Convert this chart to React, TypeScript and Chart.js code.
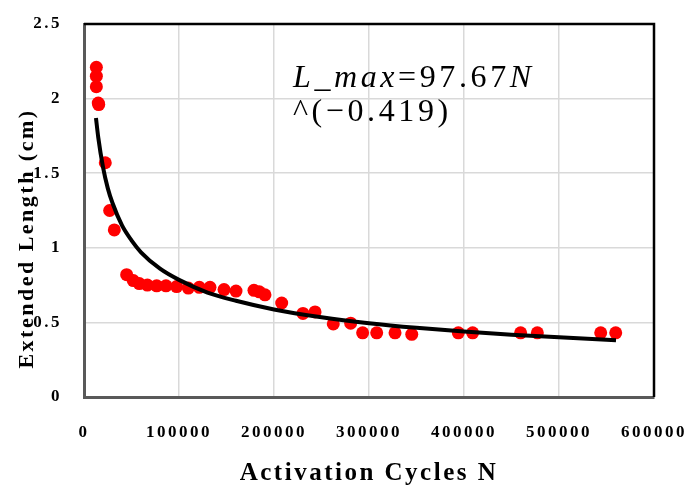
import { useEffect, useRef } from "react";
import { Chart, registerables } from "chart.js";

Chart.register(...registerables);

// Measured extension versus number of activation cycles
const cyclesN = [
  13000, 13000, 13000, 15000, 15500, 22400, 27000, 31900, 44900, 51900,
  58200, 66700, 76500, 86300, 97500, 109800, 121400, 132600, 147400, 160000,
  178900, 184500, 190500, 208100, 230500, 243200, 262400, 280700, 293300, 308100,
  327400, 345000, 394000, 409100, 459600, 477200, 543900, 559700,
];
const extendedLength = [
  2.21, 2.15, 2.08, 1.97, 1.96, 1.57, 1.25, 1.12, 0.82, 0.78,
  0.76, 0.75, 0.745, 0.745, 0.74, 0.73, 0.735, 0.735, 0.72, 0.71,
  0.715, 0.705, 0.685, 0.63, 0.56, 0.57, 0.49, 0.495, 0.43, 0.43,
  0.43, 0.42, 0.43, 0.43, 0.43, 0.43, 0.43, 0.43,
];

// Power-law trend line samples
const fitCycles = [
  12600, 15000, 20000, 25000, 30000, 40000, 50000, 60000, 80000, 100000,
  130000, 160000, 200000, 250000, 300000, 350000, 400000, 450000, 500000, 560000,
];
const fitLength = [
  1.87, 1.74, 1.54, 1.40, 1.30, 1.15, 1.05, 0.97, 0.86, 0.785,
  0.70, 0.645, 0.587, 0.535, 0.495, 0.464, 0.439, 0.418, 0.40, 0.381,
];

const xTickValues = [0, 100000, 200000, 300000, 400000, 500000, 600000];
const yTickValues = [0, 0.5, 1, 1.5, 2, 2.5];

const xTitle = "Activation Cycles N";
const yTitle = "Extended Length (cm)";

const equationTop = [
  { text: "L_max", italic: true },
  { text: "=97.67", italic: false },
  { text: "N", italic: true },
];
const equationBottom = "^(\u22120.419)";
const equationAnchor = { x: 220000, y: 2.08 };

const SERIF = "'Liberation Serif', 'Times New Roman', serif";
const TEXT_SPACING = "2.5px";

const spacingPlugin = {
  id: "textSpacing",
  beforeLayout(chart: any) {
    chart.ctx.letterSpacing = TEXT_SPACING;
  },
  beforeDraw(chart: any) {
    chart.ctx.letterSpacing = TEXT_SPACING;
  },
};

// Black frame on the top and right sides of the plot area
const framePlugin = {
  id: "frame",
  beforeDatasetsDraw(chart: any) {
    const { ctx, chartArea } = chart;
    ctx.save();
    ctx.strokeStyle = "#000";
    ctx.lineWidth = 2.5;
    ctx.beginPath();
    ctx.moveTo(chartArea.left, chartArea.top);
    ctx.lineTo(chartArea.right, chartArea.top);
    ctx.lineTo(chartArea.right, chartArea.bottom);
    ctx.stroke();
    ctx.restore();
  },
};

// Vertical axis caption, set a little below the middle of the axis
const yTitlePlugin = {
  id: "yTitle",
  afterDraw(chart: any) {
    const { ctx, chartArea } = chart;
    ctx.save();
    ctx.translate(27, (chartArea.top + chartArea.bottom) / 2 + 28);
    ctx.rotate(-Math.PI / 2);
    ctx.fillStyle = "#000";
    ctx.textAlign = "center";
    ctx.textBaseline = "middle";
    ctx.letterSpacing = TEXT_SPACING;
    ctx.font = `bold 22px ${SERIF}`;
    ctx.fillText(yTitle, 0, 0);
    ctx.restore();
  },
};

const equationPlugin = {
  id: "equation",
  afterDraw(chart: any) {
    const { ctx, scales } = chart;
    const x0 = scales.x.getPixelForValue(equationAnchor.x);
    const y0 = scales.y.getPixelForValue(equationAnchor.y);
    ctx.save();
    ctx.fillStyle = "#000";
    ctx.textAlign = "left";
    ctx.textBaseline = "alphabetic";
    ctx.letterSpacing = "3.6px";
    let x = x0;
    for (const seg of equationTop) {
      ctx.font = `${seg.italic ? "italic " : ""}32px ${SERIF}`;
      ctx.fillText(seg.text, x, y0);
      x += ctx.measureText(seg.text).width;
    }
    ctx.font = `32px ${SERIF}`;
    ctx.fillText(equationBottom, x0, y0 + 34);
    ctx.restore();
  },
};

export default function App() {
  const canvasRef = useRef<HTMLCanvasElement | null>(null);

  useEffect(() => {
    if (!canvasRef.current) return;
    const chart = new Chart(canvasRef.current, {
      type: "scatter",
      data: {
        datasets: [
          {
            label: "Power fit",
            data: fitCycles.map((n, i) => ({ x: n, y: fitLength[i] })),
            showLine: true,
            borderColor: "#000",
            borderWidth: 4,
            pointRadius: 0,
            tension: 0.4,
            cubicInterpolationMode: "monotone",
          } as any,
          {
            label: "Extended length",
            data: cyclesN.map((n, i) => ({ x: n, y: extendedLength[i] })),
            backgroundColor: "#ff0000",
            borderWidth: 0,
            pointRadius: 6.5,
          },
        ],
      },
      options: {
        animation: false,
        responsive: false,
        devicePixelRatio: 1,
        layout: { padding: { left: 0, top: 24, right: 35, bottom: 0 } },
        plugins: {
          legend: { display: false },
          tooltip: { enabled: false },
        },
        scales: {
          x: {
            type: "linear",
            min: 0,
            max: 600000,
            afterBuildTicks: (scale: any) => {
              scale.ticks = xTickValues.map((v) => ({ value: v }));
            },
            afterFit: (scale: any) => {
              scale.height = 92;
              scale.paddingLeft = 0;
              scale.paddingRight = 0;
            },
            ticks: {
              padding: 25,
              color: "#000",
              font: { family: SERIF, size: 17, weight: "bold" },
              callback: (v: any) => String(v),
              maxRotation: 0,
            },
            grid: { color: "#d9d9d9", lineWidth: 1.5, drawTicks: false },
            border: { color: "#595959", width: 3 },
            title: {
              display: true,
              text: xTitle,
              color: "#000",
              font: { family: SERIF, size: 25, weight: "bold" },
              padding: { top: 0, bottom: 0 },
            },
          },
          y: {
            type: "linear",
            min: 0,
            max: 2.5,
            afterBuildTicks: (scale: any) => {
              scale.ticks = yTickValues.map((v) => ({ value: v }));
            },
            afterFit: (scale: any) => {
              scale.width = 84;
              scale.paddingTop = 0;
              scale.paddingBottom = 0;
            },
            ticks: {
              padding: 22,
              color: "#000",
              font: { family: SERIF, size: 17, weight: "bold" },
              callback: (v: any) => String(v),
            },
            grid: { color: "#d9d9d9", lineWidth: 1.5, drawTicks: false },
            border: { color: "#595959", width: 3 },
          },
        },
      },
      plugins: [spacingPlugin, framePlugin, yTitlePlugin, equationPlugin],
    });
    return () => chart.destroy();
  }, []);

  return (
    <div style={{ position: "absolute", left: 0, top: 0, width: 689, height: 489, background: "#fff" }}>
      <canvas ref={canvasRef} width={689} height={489} />
    </div>
  );
}
